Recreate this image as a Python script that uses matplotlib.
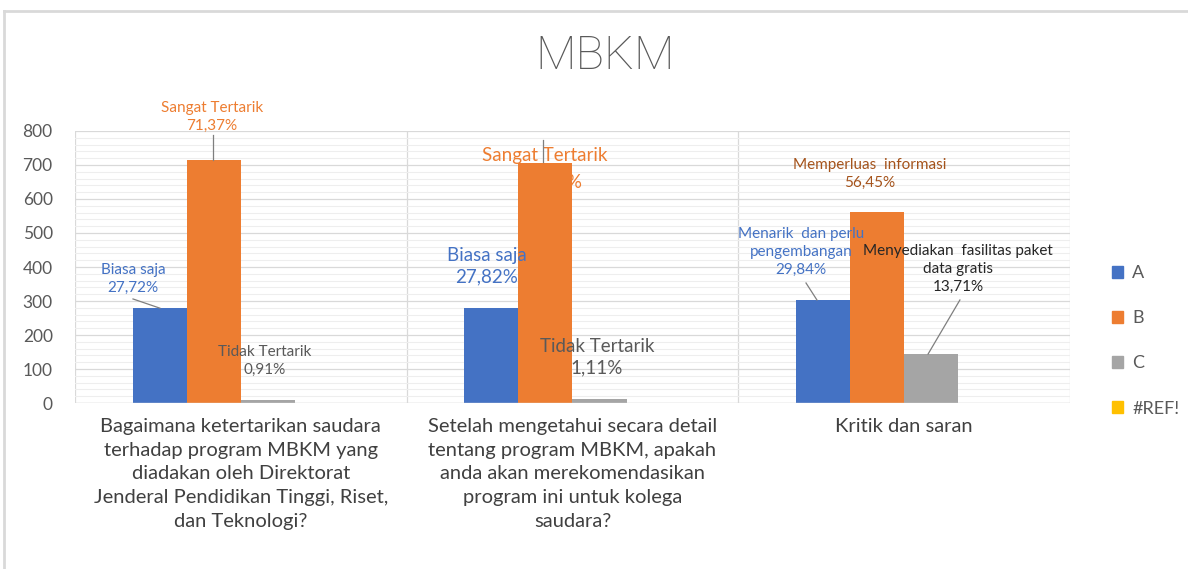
import numpy as np
import matplotlib
matplotlib.use("Agg")
from matplotlib import pyplot as plt
from matplotlib.lines import Line2D
from matplotlib.patches import Patch

plt.rcParams['font.family'] = ['Lato', 'DejaVu Sans']

# data
categories = [
    "Bagaimana ketertarikan saudara\nterhadap program MBKM yang\ndiadakan oleh Direktorat\nJenderal Pendidikan Tinggi, Riset,\ndan Teknologi?",
    "Setelah mengetahui secara detail\ntentang program MBKM, apakah\nanda akan merekomendasikan\nprogram ini untuk kolega\nsaudara?",
    "Kritik dan saran",
]
series_names = ["A", "B", "C", "#REF!"]
values_A = [278, 279, 303]
values_B = [715, 706, 562]
values_C = [9, 11, 144]
values_REF = [0, 0, 0]

labels_A = ["Biasa saja\n27,72%", "Biasa saja\n27,82%", "Menarik  dan perlu\npengembangan\n29,84%"]
labels_B = ["Sangat Tertarik\n71,37%", "Sangat Tertarik", "Memperluas  informasi\n56,45%"]
labels_C = ["Tidak Tertarik\n0,91%", "Tidak Tertarik\n1,11%", "Menyediakan  fasilitas paket\ndata gratis\n13,71%"]
hidden_B2 = "71,07%"

colors = ["#4472C4", "#ED7D31", "#A5A5A5", "#FFC000"]

fig = plt.figure(figsize=(11.88, 5.69), dpi=100)
ax = fig.add_axes([0.0631, 0.2917, 0.8376, 0.4781])

x = np.arange(len(categories))
w = 0.163
all_vals = [values_A, values_B, values_C, values_REF]
for i, vals in enumerate(all_vals):
    ax.bar(x + (i - 1.5) * w, vals, w, color=colors[i], zorder=3, label=series_names[i])

ax.set_xlim(-0.5, 2.5)
ax.set_ylim(0, 800)
ax.set_yticks(range(0, 801, 100))
ax.set_yticks(range(0, 801, 20), minor=True)
ax.grid(axis='y', which='major', color='#d9d9d9', lw=0.9, zorder=0)
ax.grid(axis='y', which='minor', color='#eeeeee', lw=0.8, zorder=0)
for xv in [-0.5, 0.5, 1.5, 2.5]:
    ax.axvline(xv, color='#d9d9d9', lw=0.9, zorder=0)
for s in ax.spines.values():
    s.set_visible(False)
ax.axhline(0, color='#d9d9d9', lw=1, zorder=4)
ax.tick_params(axis='y', which='both', length=0, pad=16, labelsize=12.5, labelcolor='#595959')
ax.tick_params(axis='x', length=0, pad=11)
ax.set_xticks(x)
ax.set_xticklabels(categories, fontsize=14.5, color='#404040', linespacing=1.47)

# data labels positions and styles
lab_pos_A = [(-0.325, 365), (0.742, 403), (1.689, 444)]
lab_pos_B = [(-0.087, 841), (0.917, 729), (1.897, 674)]
lab_pos_C = [(0.073, 123), (1.074, 135), (2.162, 394)]
sizes = [11, 13.5, 11]
colA = ["#4472C4", "#4472C4", "#4472C4"]
colB = ["#ED7D31", "#ED7D31", "#A5531B"]
colC = ["#595959", "#595959", "#262626"]
for g in range(3):
    ax.text(*lab_pos_A[g], labels_A[g], color=colA[g], fontsize=sizes[g], ha='center', va='center',
            linespacing=1.35, zorder=5, clip_on=False)
    ax.text(*lab_pos_B[g], labels_B[g], color=colB[g], fontsize=sizes[g], ha='center', va='center',
            linespacing=1.35, zorder=5 if g != 1 else 2, clip_on=False)
    ax.text(*lab_pos_C[g], labels_C[g], color=colC[g], fontsize=sizes[g], ha='center', va='center',
            linespacing=1.35, zorder=5, clip_on=False)
# second line of the B label in group 2 sits behind its bar
ax.text(0.935, 650, hidden_B2, color="#ED7D31", fontsize=13.5, ha='center', va='center', zorder=2)

# leader lines
leaders = [((-0.325, -0.244), (306, 279)), ((-0.084, -0.084), (788, 715)),
           ((0.911, 0.911), (774, 709)), ((1.704, 1.737), (353, 303)),
           ((2.168, 2.072), (303, 144))]
for lx, ly in leaders:
    ax.plot(lx, ly, color='#7f7f7f', lw=0.9, zorder=6, clip_on=False)

fig.text(0.509, 0.902, "MBKM", fontsize=34, color='#595959', ha='center', va='center',
         family=['Roboto', 'DejaVu Sans'], fontweight='light')

handles = [Patch(color=c) for c in colors]
fig.legend(handles, series_names, loc='center left', bbox_to_anchor=(0.922, 0.401),
           frameon=False, fontsize=13, labelcolor='#595959', handlelength=0.65,
           handleheight=0.65, handletextpad=0.5, labelspacing=1.62)

# outer chart border
fig.add_artist(Line2D([4 / 1188, 4 / 1188], [0, 1 - 11 / 569], color='#d9d9d9', lw=2))
fig.add_artist(Line2D([4 / 1188, 1], [1 - 11 / 569, 1 - 11 / 569], color='#d9d9d9', lw=2))

fig.savefig("out.png", dpi=100)
